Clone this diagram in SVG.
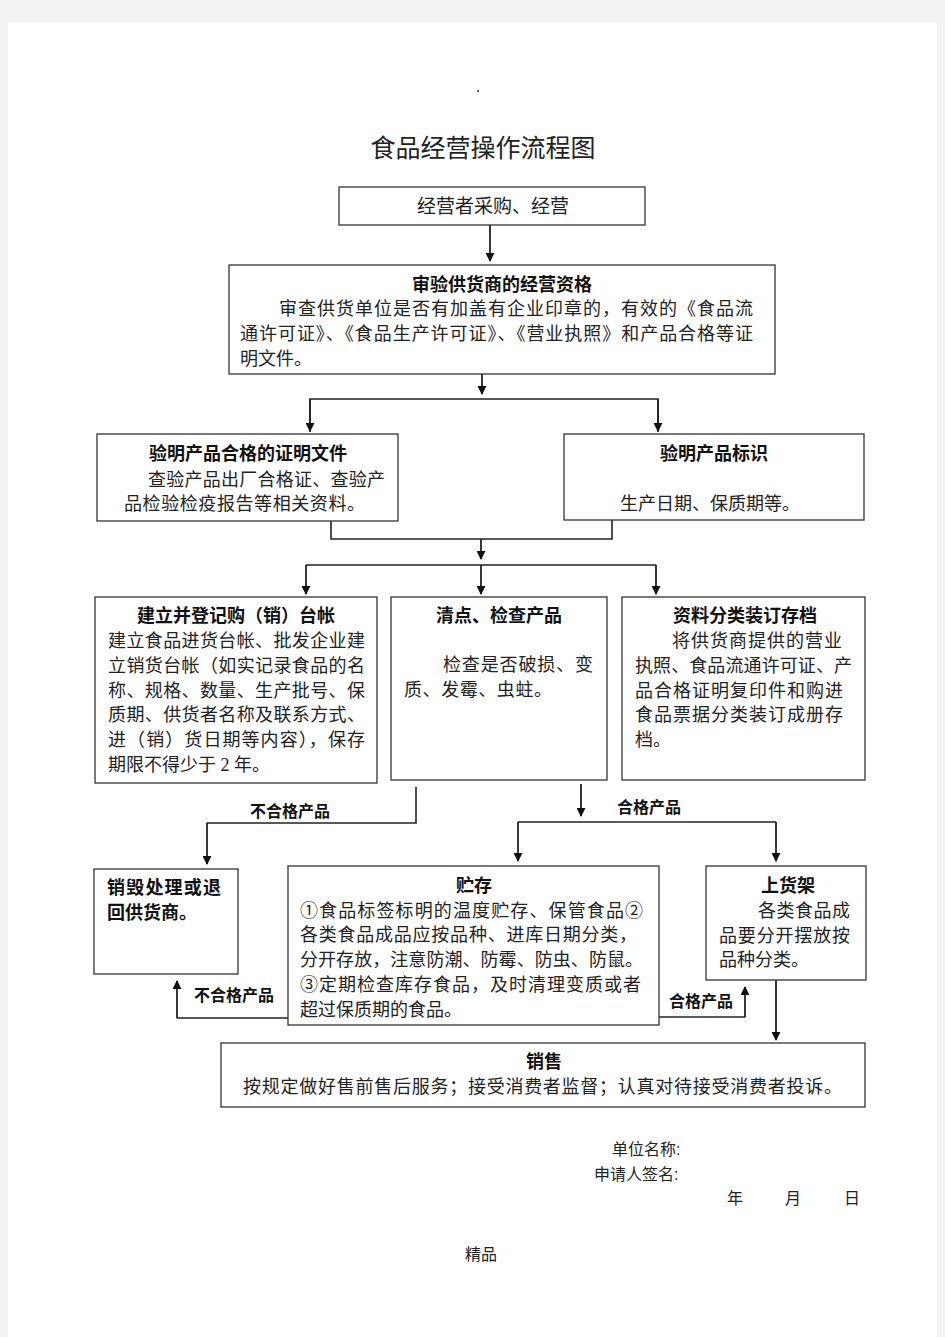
<svg xmlns="http://www.w3.org/2000/svg" width="945" height="1337" viewBox="0 0 945 1337">
<defs>
<marker id="ah" viewBox="0 0 10 10" refX="9" refY="5" markerWidth="5" markerHeight="5" orient="auto" markerUnits="strokeWidth">
<path d="M0,0 L10,5 L0,10 z" fill="#111"/>
</marker>
<style>
.box{fill:#fff;stroke:#333;stroke-width:1.3}
.ln{fill:none;stroke:#222;stroke-width:1.6}
.ar{fill:none;stroke:#222;stroke-width:1.8;marker-end:url(#ah)}
.t{font-family:"Liberation Serif","Noto Sans CJK SC",serif;font-size:18px;fill:#222}
.b{font-family:"Liberation Serif","Noto Sans CJK SC",serif;font-size:18px;font-weight:bold;fill:#111}
.s{font-family:"Liberation Sans","Noto Sans CJK SC",sans-serif;font-size:16px;fill:#222}
.lb{font-family:"Liberation Sans","Noto Sans CJK SC",sans-serif;font-size:16px;font-weight:bold;fill:#111}
.c{text-anchor:middle}
</style>
</defs>
<rect x="0" y="0" width="945" height="1337" fill="#f3f3f3"/>
<rect x="8" y="22" width="929" height="1315" fill="#fff"/>
<circle cx="478" cy="91" r="1" fill="#222"/>
<text class="t c" x="483" y="157" style="font-size:25px">食品经营操作流程图</text>

<g id="connectors">
<path class="ar" d="M490,225 V261"/>
<path class="ar" d="M482,374 V394"/>
<path class="ln" d="M310,432 V399 H658 V432"/>
<path class="ar" d="M310,399 V431"/>
<path class="ar" d="M658,399 V431"/>
<path class="ln" d="M331,521 V539 H612 V520"/>
<path class="ar" d="M481,539 V559"/>
<path class="ln" d="M306,565 H656"/>
<path class="ar" d="M306,565 V594"/>
<path class="ar" d="M481,565 V594"/>
<path class="ar" d="M656,565 V594"/>
<path class="ln" d="M416,787 V823 H207"/>
<path class="ar" d="M207,823 V864"/>
<path class="ar" d="M581,784 V816"/>
<path class="ln" d="M518,822 H776"/>
<path class="ar" d="M518,822 V861"/>
<path class="ar" d="M776,822 V861"/>
<path class="ln" d="M288,1018 H177"/>
<path class="ar" d="M177,1018 V981"/>
<path class="ln" d="M659,1017 H745"/>
<path class="ar" d="M745,1017 V987"/>
<path class="ar" d="M776,980 V1040"/>
<text class="lb" x="250" y="817">不合格产品</text>
<text class="lb" x="617" y="813">合格产品</text>
<text class="lb" x="194" y="1001">不合格产品</text>
<text class="lb" x="669" y="1007">合格产品</text>
</g>

<g id="n1">
<rect class="box" x="339" y="187" width="306" height="38"/>
<text class="t c" x="493" y="213" style="font-size:19px">经营者采购、经营</text>
</g>

<g id="n2">
<rect class="box" x="229" y="265" width="546" height="109"/>
<text class="b c" x="502" y="291">审验供货商的经营资格</text>
<text class="t" x="279" y="315" textLength="474">审查供货单位是否有加盖有企业印章的，有效的《食品流</text>
<text class="t" x="240" y="340" textLength="513">通许可证》、《食品生产许可证》、《营业执照》和产品合格等证</text>
<text class="t" x="240" y="365">明文件。</text>
</g>

<g id="n3">
<rect class="box" x="97" y="434" width="301" height="87"/>
<text class="b c" x="248" y="460">验明产品合格的证明文件</text>
<text class="t" x="148" y="486" textLength="237">查验产品出厂合格证、查验产</text>
<text class="t" x="124" y="510" textLength="241">品检验检疫报告等相关资料。</text>
</g>

<g id="n4">
<rect class="box" x="564" y="434" width="300" height="86"/>
<text class="b c" x="714" y="460">验明产品标识</text>
<text class="t" x="620" y="510" textLength="180">生产日期、保质期等。</text>
</g>

<g id="n5">
<rect class="box" x="95" y="597" width="282" height="186"/>
<text class="b c" x="236" y="622">建立并登记购（销）台帐</text>
<text class="t" x="108" y="647" textLength="257">建立食品进货台帐、批发企业建</text>
<text class="t" x="108" y="672" textLength="257">立销货台帐（如实记录食品的名</text>
<text class="t" x="108" y="697" textLength="257">称、规格、数量、生产批号、保</text>
<text class="t" x="108" y="721" textLength="257">质期、供货者名称及联系方式、</text>
<text class="t" x="108" y="746" textLength="257">进（销）货日期等内容），保存</text>
<text class="t" x="108" y="771">期限不得少于 2 年。</text>
</g>

<g id="n6">
<rect class="box" x="391" y="597" width="216" height="183"/>
<text class="b c" x="499" y="622">清点、检查产品</text>
<text class="t" x="443" y="671" textLength="150">检查是否破损、变</text>
<text class="t" x="404" y="696" textLength="148">质、发霉、虫蛀。</text>
</g>

<g id="n7">
<rect class="box" x="622" y="597" width="243" height="183"/>
<text class="b c" x="745" y="622">资料分类装订存档</text>
<text class="t" x="672" y="647" textLength="170">将供货商提供的营业</text>
<text class="t" x="635" y="672" textLength="217">执照、食品流通许可证、产</text>
<text class="t" x="635" y="697" textLength="208">品合格证明复印件和购进</text>
<text class="t" x="635" y="721" textLength="208">食品票据分类装订成册存</text>
<text class="t" x="635" y="746">档。</text>
</g>

<g id="n8">
<rect class="box" x="94" y="869" width="144" height="105"/>
<text class="b" x="107" y="894" textLength="114">销毁处理或退</text>
<text class="b" x="107" y="919">回供货商。</text>
</g>

<g id="n9">
<rect class="box" x="288" y="866" width="371" height="159"/>
<text class="b c" x="474" y="892">贮存</text>
<text class="t" x="300" y="917" textLength="343">①食品标签标明的温度贮存、保管食品②</text>
<text class="t" x="300" y="941" textLength="337">各类食品成品应按品种、进库日期分类，</text>
<text class="t" x="300" y="966" textLength="343">分开存放，注意防潮、防霉、防虫、防鼠。</text>
<text class="t" x="300" y="991" textLength="341">③定期检查库存食品，及时清理变质或者</text>
<text class="t" x="300" y="1016">超过保质期的食品。</text>
</g>

<g id="n10">
<rect class="box" x="706" y="866" width="160" height="114"/>
<text class="b c" x="788" y="892">上货架</text>
<text class="t" x="758" y="917" textLength="92">各类食品成</text>
<text class="t" x="719" y="942" textLength="131">品要分开摆放按</text>
<text class="t" x="719" y="966">品种分类。</text>
</g>

<g id="n11">
<rect class="box" x="221" y="1043" width="644" height="64"/>
<text class="b c" x="544" y="1068">销售</text>
<text class="t" x="243" y="1093" textLength="599">按规定做好售前售后服务；接受消费者监督；认真对待接受消费者投诉。</text>
</g>

<g id="footer">
<text class="s" x="612" y="1155">单位名称:</text>
<text class="s" x="594" y="1180">申请人签名:</text>
<text class="s" x="727" y="1204">年</text>
<text class="s" x="785" y="1204">月</text>
<text class="s" x="844" y="1204">日</text>
<text class="s c" x="481" y="1260">精品</text>
</g>
</svg>
